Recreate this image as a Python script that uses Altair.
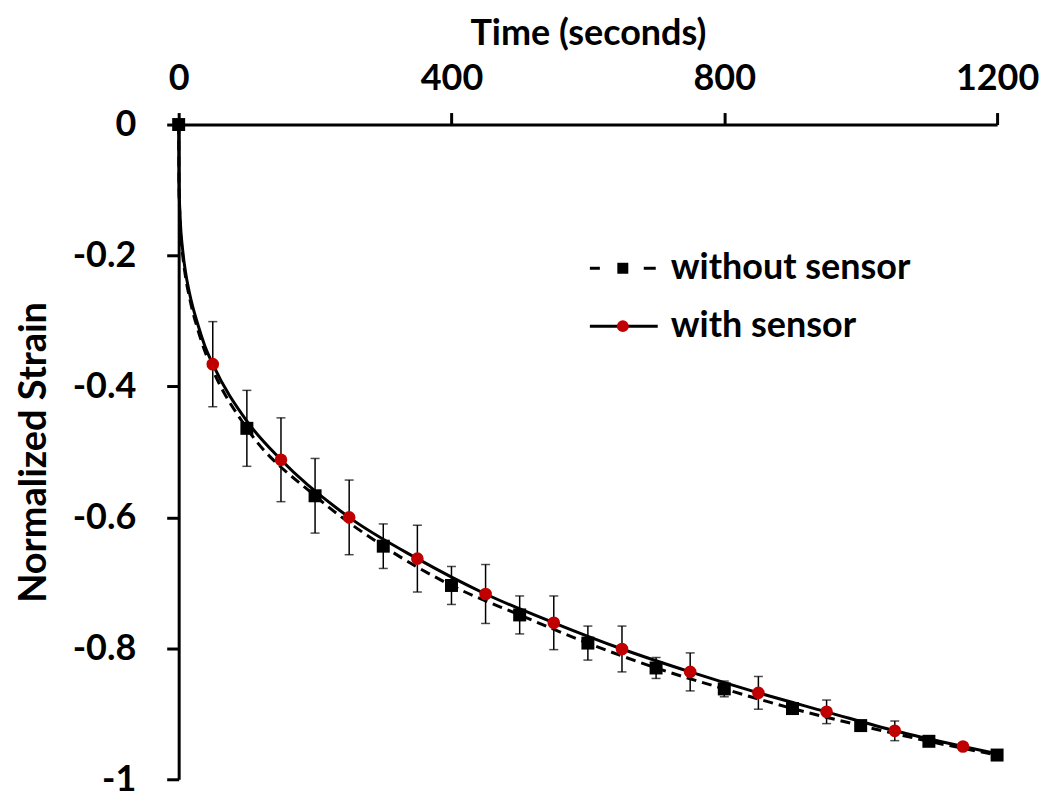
import altair as alt
import pandas as pd

# ---- data ----
t_without = [0, 100, 200, 300, 400, 500, 600, 700, 800, 900, 1000, 1100, 1200]
y_without = [0, -0.464, -0.567, -0.644, -0.704, -0.749, -0.792, -0.830, -0.862, -0.892, -0.918, -0.942, -0.963]
e_without = [0, 0.058, 0.057, 0.034, 0.029, 0.029, 0.026, 0.016, 0.012, 0.006, 0.005, 0.004, 0.004]

t_with = [50, 150, 250, 350, 450, 550, 650, 750, 850, 950, 1050, 1150]
y_with = [-0.366, -0.512, -0.600, -0.663, -0.717, -0.761, -0.801, -0.836, -0.868, -0.897, -0.926, -0.950]
e_with = [0.065, 0.064, 0.057, 0.051, 0.045, 0.041, 0.035, 0.029, 0.025, 0.018, 0.015, 0.005]

# drawn curves
curve_without_t = [0, 0.5, 2, 6, 10, 16, 28, 38, 50, 100, 200, 300, 400, 500, 600, 700, 800, 900, 1000, 1100, 1200]
curve_without_y = [0, -0.095, -0.145, -0.200, -0.232, -0.265, -0.313, -0.345, -0.375, -0.464, -0.567, -0.644,
                   -0.704, -0.749, -0.792, -0.830, -0.862, -0.892, -0.918, -0.942, -0.963]
curve_with_t = [0, 0.5, 2, 6, 10, 16, 28, 38, 50, 100, 150, 250, 350, 450, 550, 650, 750, 850, 950, 1050, 1150, 1200]
curve_with_y = [0, -0.09, -0.138, -0.193, -0.225, -0.258, -0.305, -0.337, -0.366, -0.453, -0.512, -0.600,
                -0.663, -0.717, -0.761, -0.801, -0.836, -0.868, -0.897, -0.926, -0.950, -0.961]

x_ticks = [0, 400, 800, 1200]
y_ticks = [0, -0.2, -0.4, -0.6, -0.8, -1]
legend_labels = ["without sensor", "with sensor"]
RED = "#C00000"
FONT = "Lato"

df_wo = pd.DataFrame({"t": t_without, "y": y_without, "e": e_without})
df_wo["lo"] = df_wo["y"] - df_wo["e"]
df_wo["hi"] = df_wo["y"] + df_wo["e"]
df_w = pd.DataFrame({"t": t_with, "y": y_with, "e": e_with})
df_w["lo"] = df_w["y"] - df_w["e"]
df_w["hi"] = df_w["y"] + df_w["e"]
df_cwo = pd.DataFrame({"t": curve_without_t, "y": curve_without_y})
df_cw = pd.DataFrame({"t": curve_with_t, "y": curve_with_y})

xs = alt.Scale(domain=[0, 1200], nice=False)
ys = alt.Scale(domain=[-1, 0], nice=False)

x_axis = alt.Axis(orient="top", values=x_ticks, format="d", labelPadding=15, labelFlush=False,
                  title="Time (seconds)", titleY=-80, titleBaseline="alphabetic")
y_axis = alt.Axis(values=y_ticks, labelExpr="'' + datum.value", labelPadding=31,
                  title="Normalized Strain", titleX=-133, titleBaseline="alphabetic", titleFontSize=38)

X = alt.X("t:Q", scale=xs, axis=x_axis)
Y = alt.Y("y:Q", scale=ys, axis=y_axis)

line_wo = alt.Chart(df_cwo).mark_line(color="black", strokeWidth=3, strokeDash=[10, 6],
                                      interpolate="monotone").encode(x=X, y=Y, order="t:Q")
line_w = alt.Chart(df_cw).mark_line(color="black", strokeWidth=3,
                                    interpolate="monotone").encode(x="t:Q", y="y:Q", order="t:Q")


def errbars(df):
    d = df[df["e"] > 0]
    base = alt.Chart(d)
    r = base.mark_rule(color="black", strokeWidth=1.5).encode(x="t:Q", y="lo:Q", y2="hi:Q")
    c1 = base.mark_tick(color="black", orient="horizontal", size=9, thickness=1.5).encode(x="t:Q", y="lo:Q")
    c2 = base.mark_tick(color="black", orient="horizontal", size=9, thickness=1.5).encode(x="t:Q", y="hi:Q")
    return r + c1 + c2


pts_wo = alt.Chart(df_wo).mark_point(shape="square", filled=True, color="black", size=169,
                                     opacity=1).encode(x="t:Q", y="y:Q")
pts_w = alt.Chart(df_w).mark_point(shape="circle", filled=True, color=RED, size=160,
                                   opacity=1).encode(x="t:Q", y="y:Q")

# ---- legend ----
one = pd.DataFrame({"a": [0]})
r1, r2 = 144, 202
lg = []
lg.append(alt.Chart(one).mark_rule(color="black", strokeWidth=3).encode(
    x=alt.value(412), x2=alt.value(422), y=alt.value(r1)))
lg.append(alt.Chart(one).mark_rule(color="black", strokeWidth=3).encode(
    x=alt.value(466), x2=alt.value(478), y=alt.value(r1)))
lg.append(alt.Chart(one).mark_point(shape="square", filled=True, color="black", size=121, opacity=1).encode(
    x=alt.value(445), y=alt.value(r1)))
lg.append(alt.Chart(one).mark_rule(color="black", strokeWidth=3).encode(
    x=alt.value(412), x2=alt.value(480), y=alt.value(r2)))
lg.append(alt.Chart(one).mark_point(shape="circle", filled=True, color=RED, size=140, opacity=1).encode(
    x=alt.value(445), y=alt.value(r2)))
for lab, ry in zip(legend_labels, [r1, r2]):
    lg.append(alt.Chart(pd.DataFrame({"label": [lab]})).mark_text(
        align="left", baseline="middle", font=FONT, fontSize=36, fontWeight="bold", color="black").encode(
        x=alt.value(493), y=alt.value(ry), text="label:N"))

chart = alt.layer(line_wo, line_w, errbars(df_wo), errbars(df_w), pts_wo, pts_w, *lg).properties(
    width=820, height=656,
    autosize=alt.AutoSizeParams(type="none"),
    padding={"left": 171, "top": 116, "right": 45, "bottom": 20},
).configure_view(stroke=None).configure_axis(
    grid=False, domainColor="black", domainWidth=3, tickColor="black", tickWidth=3, tickSize=12,
    labelFont=FONT, labelFontSize=36, labelFontWeight="bold", labelColor="black",
    titleFont=FONT, titleFontSize=36, titleFontWeight="bold", titleColor="black",
)

chart.save("out.html", embed_options={"renderer": "svg", "actions": False})
